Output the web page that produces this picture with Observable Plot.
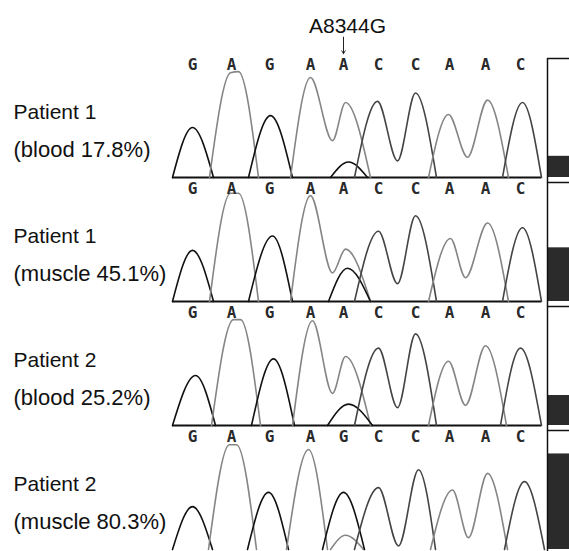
<!DOCTYPE html>
<html>
<head>
<meta charset="utf-8">
<script src="https://cdn.jsdelivr.net/npm/d3@7"></script>
<script src="https://cdn.jsdelivr.net/npm/@observablehq/plot@0.6"></script>
<style>
  html, body { margin: 0; padding: 0; background: #fff; }
  #chart svg { display: block; }
</style>
</head>
<body>
<div id="chart"></div>
<script>
// ---- data ----
const panels = ["p1-blood", "p1-muscle", "p2-blood", "p2-muscle"];
const patientLabels = ["Patient 1", "Patient 1", "Patient 2", "Patient 2"];
const tissueLabels = ["(blood 17.8%)", "(muscle 45.1%)", "(blood 25.2%)", "(muscle 80.3%)"];
const mutantPercent = [17.8, 45.1, 25.2, 80.3];
const mutationName = "A8344G";
const mutationScan = 171;
const baseScans = [20, 59, 97, 138, 171, 206, 243, 277, 313, 348];
const baseCalls = [
  ["G","A","G","A","A","C","C","A","A","C"],
  ["G","A","G","A","A","C","C","A","A","C"],
  ["G","A","G","A","A","C","C","A","A","C"],
  ["G","A","G","A","G","C","C","A","A","C"]
];
// traces: [base, [[scan, signal], ...]]
const tracesP1Blood = [
  ["G", [[0,0],[20,42],[41,0]]],
  ["A", [[37,0],[58,88],[66,89],[86,0]]],
  ["G", [[76,0],[98,52],[120,0]]],
  ["A", [[118,0],[138,84],[160,31],[173,63],[198,0]]],
  ["G", [[158,0],[176,13],[195,0]]],
  ["C", [[182,0],[205,64],[225,14],[243,71],[264,0]]],
  ["A", [[256,0],[276,53],[295,17],[315,65],[336,0]]],
  ["C", [[330,0],[350,63],[369,0]]]
];
const tracesP1Muscle = [
  ["G", [[0,0],[20,43],[41,0]]],
  ["A", [[37,0],[58,91],[66,91],[86,0]]],
  ["G", [[76,0],[100,55],[120,0]]],
  ["A", [[118,0],[138,89],[160,24],[173,44],[198,0]]],
  ["G", [[156,0],[175,28],[198,0]]],
  ["C", [[182,0],[206,59],[225,15],[243,72],[264,0]]],
  ["A", [[256,0],[278,53],[293,20],[315,66],[336,0]]],
  ["C", [[330,0],[350,62],[369,0]]]
];
const tracesP2Blood = [
  ["G", [[0,0],[23,42],[43,0]]],
  ["A", [[39,0],[61,89],[68,89],[88,0]]],
  ["G", [[79,0],[101,56],[122,0]]],
  ["A", [[120,0],[140,88],[160,27],[173,58],[198,0]]],
  ["G", [[155,0],[176,18],[200,0]]],
  ["C", [[182,0],[206,65],[225,15],[243,77],[264,0]]],
  ["A", [[256,0],[276,54],[293,17],[313,67],[334,0]]],
  ["C", [[328,0],[348,65],[369,0]]]
];
const tracesP2Muscle = [
  ["G", [[0,0],[20,36],[40,0]]],
  ["A", [[36,0],[57,88],[64,88],[84,0]]],
  ["G", [[75,0],[96,48],[116,0]]],
  ["A", [[114,0],[136,84],[155,0]]],
  ["A", [[158,0],[173,12],[191,0]]],
  ["G", [[150,0],[171,48],[192,0]]],
  ["C", [[182,0],[206,52],[226,3],[246,67],[263,0]]],
  ["A", [[258,0],[280,50],[296,10],[315,64],[335,0]]],
  ["C", [[332,0],[352,57],[372,0]]]
];
const traceSets = [tracesP1Blood, tracesP1Muscle, tracesP2Blood, tracesP2Muscle];

// ---- tables for Plot ----
const traceRows = [];
traceSets.forEach((set, i) => set.forEach(([base, pts], k) => pts.forEach(([scan, signal]) =>
  traceRows.push({panel: panels[i], base, seg: panels[i] + "-" + k, scan, signal}))));
const callRows = [];
baseCalls.forEach((calls, i) => calls.forEach((b, j) => callRows.push({panel: panels[i], base: b, scan: baseScans[j]})));
const panelRows = panels.map((p, i) => ({panel: p, patient: patientLabels[i], tissue: tissueLabels[i], pct: mutantPercent[i]}));
const titleRows = [{panel: panels[0], text: mutationName, scan: mutationScan}];

const chart = Plot.plot({
  width: 569,
  height: 551,
  marginTop: 57,
  marginBottom: 0,
  marginLeft: 172,
  marginRight: 0,
  style: {fontFamily: "'Liberation Sans', Arial, sans-serif", background: "#fff", overflow: "visible"},
  x: {domain: [0, 397], axis: null},
  y: {domain: [0, 100], axis: null},
  fy: {domain: panels, axis: null, paddingInner: 0.04, paddingOuter: 0},
  color: {domain: ["A", "C", "G", "T"], range: ["#858585", "#444444", "#111111", "#b00000"]},
  marks: [
    Plot.ruleY(panelRows.slice(0, 3), {fy: "panel", y: () => 0, x1: () => 0, x2: () => 369, stroke: "#111", strokeWidth: 2}),
    Plot.line(traceRows, {fy: "panel", x: "scan", y: "signal", z: "seg", stroke: "base", curve: "monotone-x", strokeWidth: 1.6}),
    Plot.text(callRows, {fy: "panel", x: "scan", y: () => 95, text: "base", fontFamily: "'DejaVu Sans Mono', monospace", fontWeight: "bold", fontSize: 16, fill: "#2a2a2a"}),
    Plot.text(panelRows, {fy: "panel", x: () => -159, y: () => 55, text: "patient", textAnchor: "start", fontSize: 21, fill: "#111"}),
    Plot.text(panelRows, {fy: "panel", x: () => -159, y: () => 23, text: "tissue", textAnchor: "start", fontSize: 22, fill: "#111"}),
    Plot.text(titleRows, {fy: "panel", x: d => d.scan + 4, y: () => 127, text: "text", fontSize: 21, fill: "#111"}),
    Plot.arrow(titleRows, {fy: "panel", x1: "scan", x2: "scan", y1: () => 118, y2: () => 104, headLength: 5, strokeWidth: 1, stroke: "#222"}),
    Plot.rect(panelRows, {fy: "panel", x1: () => 376, x2: () => 397, y1: () => 0, y2: "pct", fill: "#2b2b2b"}),
    Plot.ruleX(panelRows, {fy: "panel", x: () => 375, y1: () => -4.5, y2: () => 100, stroke: "#111", strokeWidth: 1.5}),
    Plot.ruleY(panelRows, {fy: "panel", y: () => 100, x1: () => 375, x2: () => 397, stroke: "#111", strokeWidth: 1.5})
  ]
});
document.getElementById("chart").appendChild(chart);
</script>
</body>
</html>
